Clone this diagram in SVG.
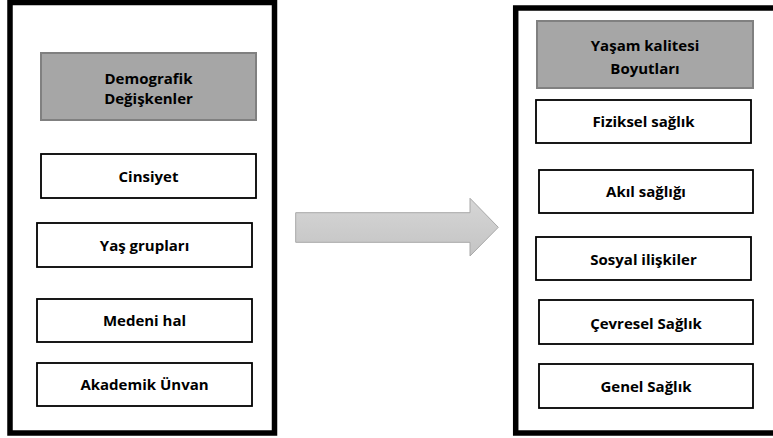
<svg xmlns="http://www.w3.org/2000/svg" width="773" height="438" viewBox="0 0 773 438">
  <defs>
    <linearGradient id="arrowGrad" x1="0" y1="0" x2="0" y2="1">
      <stop offset="0" stop-color="#d6d6d6"/>
      <stop offset="1" stop-color="#c4c4c4"/>
    </linearGradient>
    <style>
      .frame { fill: #ffffff; stroke: #000000; stroke-width: 5.5; }
      .head { fill: #a6a6a6; stroke: #808080; stroke-width: 2; }
      .item { fill: #ffffff; stroke: #000000; stroke-width: 1.8; }
      .lbl { font-family: "Open Sans", "Noto Sans", "Liberation Sans", sans-serif; font-weight: bold; font-size: 15px; fill: #000000; text-anchor: middle; }
      .arrow { fill: url(#arrowGrad); stroke: #a8a8a8; stroke-width: 1; }
    </style>
  </defs>
  <rect width="773" height="438" fill="#ffffff"/>

  <g id="left-frame">
    <rect class="frame" x="10" y="2.5" width="264.5" height="430.5"/>
  </g>
  <g id="right-frame">
    <rect class="frame" x="515.7" y="8" width="270" height="425"/>
  </g>

  <g id="demografik">
    <rect class="head" x="41" y="53" width="215" height="67"/>
    <text class="lbl" x="148.5" y="83.5">Demografik</text>
    <text class="lbl" x="148.5" y="104">Değişkenler</text>
  </g>
  <g id="cinsiyet">
    <rect class="item" x="41" y="154" width="215" height="44"/>
    <text class="lbl" x="148.5" y="181.5">Cinsiyet</text>
  </g>
  <g id="yas-gruplari">
    <rect class="item" x="37" y="223" width="215" height="44"/>
    <text class="lbl" x="144.5" y="250.5">Yaş grupları</text>
  </g>
  <g id="medeni-hal">
    <rect class="item" x="37" y="299" width="215" height="43"/>
    <text class="lbl" x="144.5" y="326">Medeni hal</text>
  </g>
  <g id="akademik-unvan">
    <rect class="item" x="37" y="363" width="215" height="43"/>
    <text class="lbl" x="144.5" y="390">Akademik Ünvan</text>
  </g>

  <g id="yasam-kalitesi">
    <rect class="head" x="537" y="21" width="216" height="67"/>
    <text class="lbl" x="645" y="50.5">Yaşam kalitesi</text>
    <text class="lbl" x="645" y="74">Boyutları</text>
  </g>
  <g id="fiziksel-saglik">
    <rect class="item" x="536" y="100" width="215" height="43"/>
    <text class="lbl" x="643.5" y="127.3">Fiziksel sağlık</text>
  </g>
  <g id="akil-sagligi">
    <rect class="item" x="539" y="170" width="214" height="43"/>
    <text class="lbl" x="646" y="196.7">Akıl sağlığı</text>
  </g>
  <g id="sosyal-iliskiler">
    <rect class="item" x="536" y="237" width="215" height="43"/>
    <text class="lbl" x="643.5" y="265">Sosyal ilişkiler</text>
  </g>
  <g id="cevresel-saglik">
    <rect class="item" x="539" y="300" width="214" height="44"/>
    <text class="lbl" x="646" y="328.5">Çevresel Sağlık</text>
  </g>
  <g id="genel-saglik">
    <rect class="item" x="539" y="364" width="214" height="44"/>
    <text class="lbl" x="646" y="391.5">Genel Sağlık</text>
  </g>

  <g id="connectors">
    <polygon class="arrow" points="295.7,212.7 470,212.7 470,198.3 498.3,227.3 470,256 470,242.3 295.7,242.3"/>
  </g>
</svg>
